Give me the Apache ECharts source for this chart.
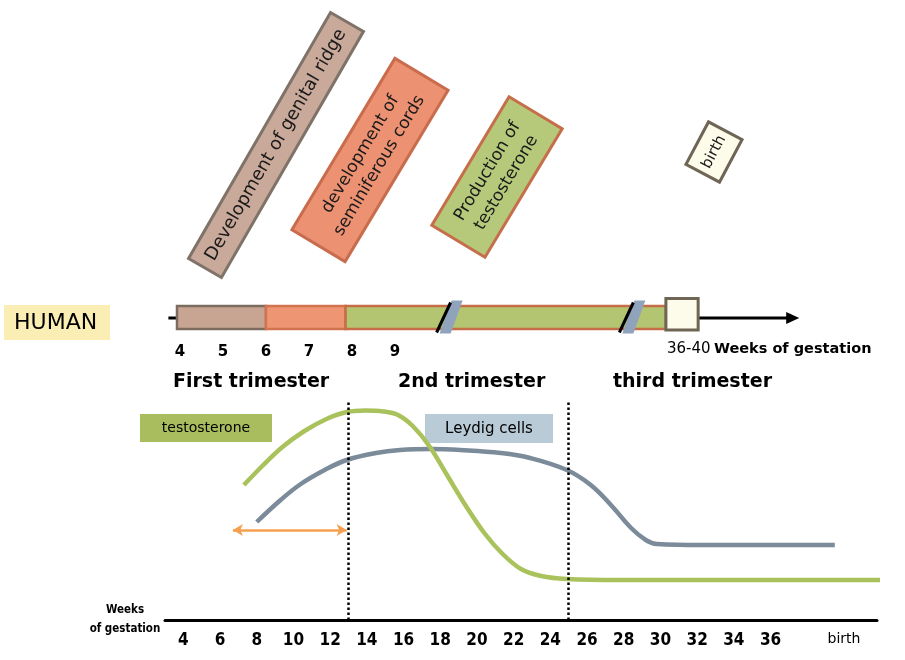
<!DOCTYPE html>
<html><head><meta charset="utf-8">
<script src="https://cdn.jsdelivr.net/npm/echarts@6/dist/echarts.min.js"></script>
<style>html,body{margin:0;padding:0;background:#fff}#c{width:905px;height:660px}</style>
</head><body><div id="c"></div>
<script>
// ---- bottom chart data (weeks of gestation vs relative level) ----
const testoWeeks  = [7.3, 8.3, 9.4, 10.6, 11.8, 12.9, 13.9, 14.9, 15.7, 16.5, 17.4, 18.4, 19.4, 20.4, 21.4, 22.4, 23.5, 24.9, 27.8, 43.3];
const testoLevel  = [57.5, 67, 76.5, 84.5, 90.5, 94, 94.8, 94.3, 92.5, 87, 77, 62, 47, 33.5, 23, 15.5, 12, 10.5, 10, 10];
const leydigWeeks = [8.0, 9.3, 10.4, 11.7, 12.9, 14.5, 15.8, 17.5, 19.1, 21.3, 22.9, 24.9, 26.2, 27.3, 28.4, 29.2, 29.8, 32.2, 39.5];
const leydigLevel = [39, 50, 58, 65, 70, 73.5, 75, 75.5, 75, 73.5, 71, 65, 57.5, 47.5, 36, 30, 28, 27.5, 27.5];
const weekTicks = [4, 6, 8, 10, 12, 14, 16, 18, 20, 22, 24, 26, 28, 30, 32, 34, 36, 40];
const weekTickLabels = ['4','6','8','10','12','14','16','18','20','22','24','26','28','30','32','34','36','birth'];
const dottedWeeks = [13, 25];
const arrowWeeks = [6.7, 12.9];
const arrowLevel = 35;

// ---- timeline (top bar, broken axis positions) ----
const timelineTicks = [4, 5, 6, 7, 8, 9];
const stageStart = [3.93, 6.0, 7.85];
const stageEnd   = [6.0, 7.85, 15.3];
const birthBox   = [15.3, 16.05];
const breakPos   = [10.2, 14.45];
const timelineArrow = [3.73, 18.4];

const stageFill   = ['#c7a592', '#ee9673', '#b3c571'];
const stageStroke = ['#7c6c60', '#d27450', '#c56d47'];
const FONT = "'DejaVu Sans', sans-serif";
const COND = "'DejaVu Sans Condensed', 'Liberation Sans Narrow', 'DejaVu Sans', sans-serif";

const chart = echarts.init(document.getElementById('c'));

function rotBox(cx, cy, w, h, deg, fill, stroke, text, fs) {
  return {
    type: 'group', x: cx, y: cy, rotation: deg * Math.PI / 180,
    children: [
      { type: 'rect', shape: { x: -w / 2, y: -h / 2, width: w, height: h },
        style: { fill: fill, stroke: stroke, lineWidth: 3 } },
      { type: 'text', style: { text: text, x: 0, y: 0, align: 'center', verticalAlign: 'middle',
        fontSize: fs, fontFamily: FONT, fill: '#1a1a1a', lineHeight: fs + 5 } }
    ]
  };
}

const option = {
  animation: false,
  backgroundColor: '#fff',
  grid: [
    { left: 165, right: 28, top: 400, height: 220 },
    { left: 167.1, right: 49.9, top: 292.5, height: 50 }
  ],
  xAxis: [
    { type: 'value', gridIndex: 0, min: 3, max: 41.8,
      axisLine: { show: true, onZero: false, lineStyle: { color: '#000', width: 3 } },
      axisTick: { show: false }, splitLine: { show: false },
      axisLabel: { customValues: weekTicks, margin: 12, color: '#000', fontSize: 17, fontWeight: 'bold',
        fontFamily: COND,
        formatter: function (v) {
          const i = weekTicks.indexOf(v);
          const t = i >= 0 ? weekTickLabels[i] : '';
          return isNaN(Number(t)) ? '{b|' + t + '}' : t;
        },
        rich: { b: { fontSize: 14, fontWeight: 'normal', fontFamily: FONT, color: '#000' } } } },
    { type: 'value', gridIndex: 1, min: 3.7, max: 19.7,
      axisLine: { show: false, onZero: false }, axisTick: { show: false }, splitLine: { show: false },
      axisLabel: { customValues: timelineTicks, margin: 2, color: '#000', fontSize: 15, fontWeight: 'bold', fontFamily: FONT } }
  ],
  yAxis: [
    { type: 'value', gridIndex: 0, min: -10, max: 100, show: false, splitLine: { show: false } },
    { type: 'value', gridIndex: 1, min: 0, max: 1, show: false, splitLine: { show: false } }
  ],
  series: [
    { type: 'line', name: 'Leydig cells', xAxisIndex: 0, yAxisIndex: 0, smooth: 0.4, symbol: 'none',
      data: leydigWeeks.map((w, i) => [w, leydigLevel[i]]),
      lineStyle: { color: '#7b8b9a', width: 4.5 }, z: 3,
      markLine: { silent: true, symbol: 'none', label: { show: false },
        lineStyle: { color: '#000', width: 2.5, type: [2.5, 2.5] },
        data: dottedWeeks.map(w => ({ xAxis: w })) } },
    { type: 'line', name: 'testosterone', xAxisIndex: 0, yAxisIndex: 0, smooth: 0.35, symbol: 'none', clip: false,
      data: testoWeeks.map((w, i) => [w, testoLevel[i]]),
      lineStyle: { color: '#a9c25c', width: 4.5 }, z: 4,
      markLine: { silent: true, symbol: ['arrow', 'arrow'], symbolSize: [9, 10], label: { show: false },
        lineStyle: { color: '#f4a04e', width: 2.5, type: 'solid' },
        data: [[{ coord: [arrowWeeks[0], arrowLevel] }, { coord: [arrowWeeks[1], arrowLevel] }]] } },
    // timeline arrow
    { type: 'custom', xAxisIndex: 1, yAxisIndex: 1, z: 2,
      data: [[timelineArrow[0], timelineArrow[1]]],
      renderItem: function (params, api) {
        const a = api.coord([api.value(0), 0.49]);
        const b = api.coord([api.value(1), 0.49]);
        return { type: 'group', children: [
          { type: 'line', shape: { x1: a[0], y1: a[1], x2: b[0] - 8, y2: b[1] }, style: { stroke: '#000', lineWidth: 3 } },
          { type: 'polygon', shape: { points: [[b[0], b[1]], [b[0] - 13, b[1] - 6], [b[0] - 13, b[1] + 6]] }, style: { fill: '#000' } }
        ] };
      } },
    // stage segments
    { type: 'custom', xAxisIndex: 1, yAxisIndex: 1, z: 3,
      data: stageStart.map((s, i) => [s, stageEnd[i], i]),
      renderItem: function (params, api) {
        const i = api.value(2);
        const p0 = api.coord([api.value(0), 0.73]);
        const p1 = api.coord([api.value(1), 0.27]);
        return { type: 'rect', shape: { x: p0[0], y: p0[1], width: p1[0] - p0[0], height: p1[1] - p0[1] },
          style: { fill: stageFill[i], stroke: stageStroke[i], lineWidth: 2.5 } };
      } },
    // breaks
    { type: 'custom', xAxisIndex: 1, yAxisIndex: 1, z: 4,
      data: breakPos.map(p => [p]),
      renderItem: function (params, api) {
        const c = api.coord([api.value(0), 0.5]);
        const x = c[0], y = c[1];
        return { type: 'group', children: [
          { type: 'polygon', shape: { points: [[x - 7, y + 16], [x + 4, y + 16], [x + 16, y - 17], [x + 5, y - 17]] },
            style: { fill: '#8fa3bd' } },
          { type: 'line', shape: { x1: x - 10, y1: y + 15, x2: x + 4, y2: y - 15 }, style: { stroke: '#000', lineWidth: 3 } }
        ] };
      } },
    // birth box
    { type: 'custom', xAxisIndex: 1, yAxisIndex: 1, z: 5,
      data: [[birthBox[0], birthBox[1]]],
      renderItem: function (params, api) {
        const p0 = api.coord([api.value(0), 0.88]);
        const p1 = api.coord([api.value(1), 0.25]);
        return { type: 'rect', shape: { x: p0[0], y: p0[1], width: p1[0] - p0[0], height: p1[1] - p0[1] },
          style: { fill: '#fdfbea', stroke: '#6e6555', lineWidth: 3 } };
      } }
  ],
  graphic: [
    rotBox(276, 145, 284, 38, 60, '#c9a99a', '#7f7268', 'Development of genital ridge', 18),
    rotBox(370, 160, 200, 62, 59, '#ec9272', '#c96c4e', 'development of\nseminiferous cords', 17),
    rotBox(497, 177, 150, 62, 59, '#b6c97a', '#c66e4a', 'Production of\ntestosterone', 17),
    rotBox(714, 152, 48, 38, 62, '#fdfbea', '#6e6555', 'birth', 15),
    { type: 'rect', shape: { x: 4, y: 305, width: 106, height: 35 }, style: { fill: '#fbeeb4' } },
    { type: 'text', style: { text: 'HUMAN', x: 14, y: 323, verticalAlign: 'middle', fontSize: 22, fontFamily: FONT, fill: '#000' } },
    { type: 'text', style: { text: '{a|36-40} {b|Weeks of gestation}', x: 667, y: 349, verticalAlign: 'middle',
      rich: { a: { fontSize: 15, fontFamily: FONT, fill: '#000' }, b: { fontSize: 14.5, fontWeight: 'bold', fontFamily: FONT, fill: '#000' } } } },
    { type: 'text', style: { text: 'First trimester', x: 173, y: 382, verticalAlign: 'middle', fontSize: 19, fontWeight: 'bold', fontFamily: FONT, fill: '#000' } },
    { type: 'text', style: { text: '2nd trimester', x: 398, y: 382, verticalAlign: 'middle', fontSize: 19, fontWeight: 'bold', fontFamily: FONT, fill: '#000' } },
    { type: 'text', style: { text: 'third trimester', x: 613, y: 382, verticalAlign: 'middle', fontSize: 19, fontWeight: 'bold', fontFamily: FONT, fill: '#000' } },
    { type: 'rect', shape: { x: 140, y: 414, width: 132, height: 28 }, style: { fill: '#a9bd5e' } },
    { type: 'text', style: { text: 'testosterone', x: 206, y: 428, align: 'center', verticalAlign: 'middle', fontSize: 14, fontFamily: FONT, fill: '#000' } },
    { type: 'rect', shape: { x: 425, y: 414, width: 128, height: 29 }, style: { fill: '#b9cbd6' } },
    { type: 'text', style: { text: 'Leydig cells', x: 489, y: 429, align: 'center', verticalAlign: 'middle', fontSize: 15, fontFamily: FONT, fill: '#000' } },
    { type: 'text', style: { text: 'Weeks\nof gestation', x: 125, y: 620, align: 'center', verticalAlign: 'middle', fontSize: 11.5, fontWeight: 'bold', lineHeight: 19, fontFamily: COND, fill: '#000' } }
  ]
};
chart.setOption(option);
</script>
</body></html>
